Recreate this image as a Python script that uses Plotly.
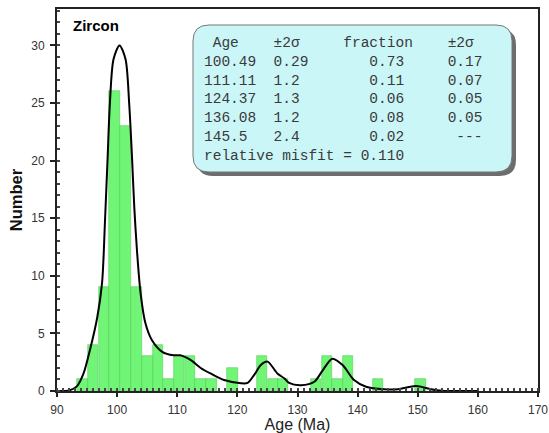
import plotly.graph_objects as go

# ---- data ----
bin_centers = [94.2, 96.0, 97.8, 99.6, 101.4, 103.2, 105.0, 106.8, 108.6, 110.3,
               112.1, 113.9, 115.7, 119.2, 124.1, 125.9, 127.6, 133.1, 134.9,
               136.7, 138.4, 143.4, 150.4]
counts = [1, 4, 9, 26, 23, 9, 3, 4, 1, 3, 3, 1, 1, 2, 3, 1, 1, 1, 3, 1, 3, 1, 1]
bin_width = 1.78

curve_x = [90, 92.0, 93.3, 94.4, 95.5, 96.7, 97.5, 98.0, 98.4, 98.8, 99.4, 100.4,
           101.4, 102.0, 102.5, 102.85, 103.3, 103.9, 104.7, 105.8, 107.5, 109.4,
           110.5, 112.2, 113.9, 115.6, 117.8, 120.6, 121.7, 122.8, 123.9, 125.0,
           126.7, 127.8, 128.6, 130.6, 132.8, 134.2, 135.8, 137.5, 139.4, 141.4,
           144.4, 146.7, 149.7, 152.2, 154.0, 160.0]
curve_y = [0, 0.05, 0.4, 1.5, 3.6, 6.4, 9.4, 15, 20, 25, 28.8, 30,
           28.8, 25, 20, 16, 12.2, 8.5, 5.9, 4.4, 3.4, 3.1,
           3.1, 2.7, 2.0, 1.5, 0.95, 0.67, 0.7, 1.4, 2.25, 2.55,
           1.5, 1.1, 0.7, 0.5, 0.8, 1.8, 2.8, 2.25, 0.95, 0.37,
           0.15, 0.15, 0.43, 0.15, 0.02, 0.0]

ages = ["100.49", "111.11", "124.37", "136.08", "145.5"]
age_err = ["0.29", "1.2", "1.3", "1.2", "2.4"]
fractions = ["0.73", "0.11", "0.06", "0.08", "0.02"]
frac_err = ["0.17", "0.07", "0.05", "0.05", "---"]
misfit = "0.110"

x_ticks = [90, 100, 110, 120, 130, 140, 150, 160, 170]
y_ticks = [0, 5, 10, 15, 20, 25, 30]

# ---- layout geometry (pixels) ----
W, H = 549, 433
ML, MR, MT, MB = 57, 11, 9, 42
PW, PH = W - ML - MR, H - MT - MB


def px(x):
    return (x - ML) / PW


def py(y):
    return (H - MB - y) / PH


def rounded_path(x0, y0, x1, y1, r):
    def P(x, y):
        return f"{px(x):.5f},{py(y):.5f}"
    return (f"M {P(x0 + r, y0)} L {P(x1 - r, y0)} Q {P(x1, y0)} {P(x1, y0 + r)} "
            f"L {P(x1, y1 - r)} Q {P(x1, y1)} {P(x1 - r, y1)} "
            f"L {P(x0 + r, y1)} Q {P(x0, y1)} {P(x0, y1 - r)} "
            f"L {P(x0, y0 + r)} Q {P(x0, y0)} {P(x0 + r, y0)} Z")


fig = go.Figure()
fig.add_trace(go.Bar(
    x=bin_centers, y=counts, width=bin_width,
    marker=dict(color="rgb(112,245,118)", line=dict(color="rgb(85,205,90)", width=0.6)),
    showlegend=False,
))
fig.add_trace(go.Scatter(
    x=curve_x, y=curve_y, mode="lines",
    line=dict(color="black", width=2, shape="spline", smoothing=0.8),
    showlegend=False,
))

bx0, by0, bx1, by1 = 193, 25, 512, 172
shapes = [
    dict(type="path", xref="paper", yref="paper",
         path=rounded_path(bx0 + 4, by0 + 4, bx1 + 4, by1 + 4, 16),
         fillcolor="rgba(60,60,60,0.75)", line=dict(width=0), layer="above"),
    dict(type="path", xref="paper", yref="paper",
         path=rounded_path(bx0, by0, bx1, by1, 16),
         fillcolor="#cbf6f8", line=dict(color="#777777", width=1), layer="above"),
]

mono = dict(family="Liberation Mono, Courier New, monospace", size=14.5, color="#3a3a3a")
rows = [" Age    ±2σ     fraction    ±2σ"]
for a, ae, f, fe in zip(ages, age_err, fractions, frac_err):
    if fe == "---":
        rows.append(f"{a:<8}{ae:<11}{f:<10}{fe}")
    else:
        rows.append(f"{a:<8}{ae:<11}{f:<9}{fe:>4}")
rows.append(f"relative misfit = {misfit}")
row_y = [43.3, 61.7, 80.7, 99.3, 118.3, 137.0, 155.7]

annotations = []
for t, yy in zip(rows, row_y):
    annotations.append(dict(
        xref="paper", yref="paper", x=px(201.7), y=py(yy), xanchor="left", yanchor="middle",
        text=t.replace(" ", "&nbsp;"), showarrow=False, font=mono,
    ))
annotations.append(dict(
    xref="paper", yref="paper", x=px(71), y=py(25), xanchor="left", yanchor="middle",
    text="<b>Zircon</b>", showarrow=False,
    font=dict(family="Liberation Sans, Arial, sans-serif", size=15, color="black"),
))

fig.update_layout(
    width=W, height=H,
    margin=dict(l=ML, r=MR, t=MT, b=MB, autoexpand=False),
    paper_bgcolor="white", plot_bgcolor="white",
    bargap=0,
    shapes=shapes,
    annotations=annotations,
    font=dict(family="Liberation Sans, Arial, sans-serif", color="#333333"),
    xaxis=dict(
        range=[90, 170], tickvals=x_ticks, ticktext=[str(v) for v in x_ticks],
        ticks="outside", ticklen=4, tickwidth=1.5, tickcolor="#222",
        minor=dict(dtick=1, ticks="inside", ticklen=3, tickcolor="#444", showgrid=False),
        showline=True, linecolor="#222", linewidth=2, mirror=True,
        showgrid=False, zeroline=False, ticklabelstandoff=3, automargin=False,
        tickfont=dict(size=12, color="#333"),
        title=dict(text="Age (Ma)", font=dict(size=16, color="#222"), standoff=4),
    ),
    yaxis=dict(
        range=[0, 33.16], tickvals=y_ticks, ticktext=[str(v) for v in y_ticks],
        ticks="outside", ticklen=5, tickwidth=1.5, tickcolor="#222",
        minor=dict(dtick=1, ticks="inside", ticklen=3, tickcolor="#444", showgrid=False),
        showline=True, linecolor="#222", linewidth=2, mirror=True,
        showgrid=False, zeroline=False, ticklabelstandoff=3, automargin=False,
        tickfont=dict(size=12, color="#333"),
        title=dict(text="<b>Number</b>", font=dict(size=16.5, color="#111"), standoff=4),
    ),
)

fig.write_html("out.html", config={"displayModeBar": False},
               post_script="document.body.style.margin='0';")
